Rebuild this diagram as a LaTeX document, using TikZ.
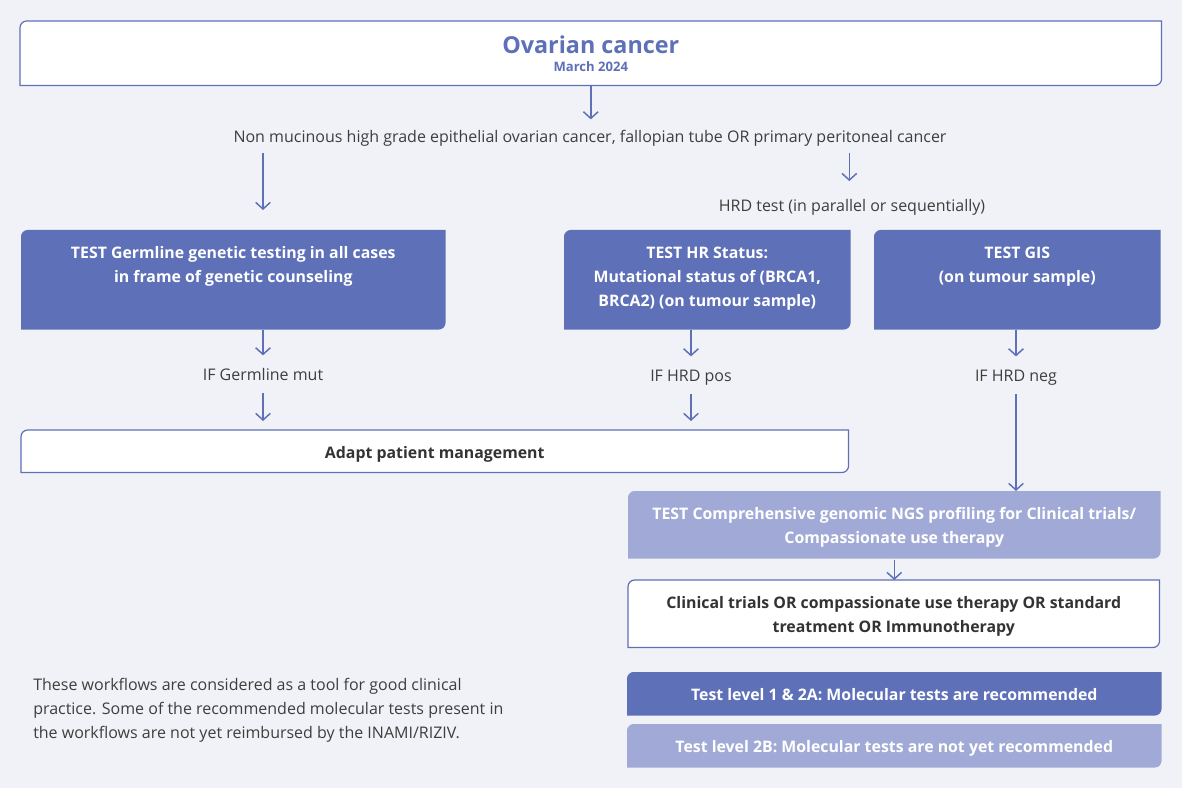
\documentclass[tikz,border=0pt]{standalone}
\usepackage{fontspec}
\setmainfont{Open Sans}
\usepackage{xcolor}
\usepackage{tikz}
\usetikzlibrary{arrows.meta}
\usetikzlibrary{positioning}
\usetikzlibrary{backgrounds}

\definecolor{boxblue}{HTML}{5D70B8}
\definecolor{boxlight}{HTML}{A1AAD6}
\definecolor{pagebg}{HTML}{F1F2F7}
\definecolor{inkgray}{HTML}{3E3E3E}
\definecolor{inkdark}{HTML}{333333}

\tikzset{
  darkbox/.style={fill=boxblue},
  lightbox/.style={fill=boxlight},
  whitebox/.style={fill=white, draw=boxblue, line width=0.9pt},
  boxtext/.style={anchor=north west, inner sep=0pt, align=center, text=white, font=\fontsize{11.9}{18}\selectfont\bfseries},
  lbl/.style={inner sep=0pt, text=inkgray, text height=11pt, text depth=0pt, font=\fontsize{12}{18}\selectfont},
  flow/.style={-{Straight Barb[length=5pt,width=11pt]}, draw=boxblue, line width=1.1pt},
}

\begin{document}
\begin{tikzpicture}[x=0.75pt, y=-0.75pt]
\node [boxtext, text=boxblue, font=\fontsize{9.8}{13.8}\selectfont\bfseries, text height=28pt, text depth=0pt, minimum width=855.75pt, minimum height=48pt] (title) at (20, 21) {{\fontsize{17.5}{20}\selectfont Ovarian cancer}\\March 2024};
\node [lbl] (nonmuc) at (590, 135) {Non mucinous high grade epithelial ovarian cancer, fallopian tube OR primary peritoneal cancer};
\node [lbl] (hrd) at (852, 204) {HRD test (in parallel or sequentially)};
\node [boxtext, text height=27pt, text depth=22.5pt, minimum width=318pt, minimum height=74.25pt] (gl) at (21, 230) {TEST Germline genetic testing in all cases\\in frame of genetic counseling};
\node [boxtext, text height=45pt, text depth=4.5pt, minimum width=214.5pt, minimum height=74.25pt] (hr) at (564, 230) {TEST HR Status:\\Mutational status of (BRCA1,\\BRCA2) (on tumour sample)};
\node [boxtext, text height=27pt, text depth=22.5pt, minimum width=214.5pt, minimum height=74.25pt] (gis) at (874, 230) {TEST GIS\\(on tumour sample)};
\node [lbl] (glif) at (263, 373) {IF Germline mut};
\node [lbl] (hrif) at (691, 374) {IF HRD pos};
\node [lbl] (gisif) at (1016, 374) {IF HRD neg};
\node [boxtext, text=inkdark, text height=11.25pt, text depth=0pt, minimum width=620.25pt, minimum height=31.5pt] (adapt) at (21, 430) {Adapt patient management};
\node [boxtext, text height=28.5pt, text depth=0pt, minimum width=399pt, minimum height=50.25pt] (ngs) at (628, 491) {TEST Comprehensive genomic NGS profiling for Clinical trials/\\Compassionate use therapy};
\node [boxtext, text=inkdark, text height=28.5pt, text depth=0pt, minimum width=398.25pt, minimum height=50.25pt] (clin) at (628, 580) {Clinical trials OR compassionate use therapy OR standard\\treatment OR Immunotherapy};
\node [boxtext, text height=10.5pt, text depth=0pt, minimum width=400.5pt, minimum height=32.25pt] (lev1) at (627, 672) {Test level 1 \& 2A: Molecular tests are recommended};
\node [boxtext, text height=10.5pt, text depth=0pt, minimum width=400.5pt, minimum height=32.25pt] (lev2) at (627, 724) {Test level 2B: Molecular tests are not yet recommended};
\node [lbl, anchor=north west, align=left, text height=, text depth=] (note) at (33, 678) {These workflows are considered as a tool for good clinical\\practice. Some of the recommended molecular tests present in\\the workflows are not yet reimbursed by the INAMI/RIZIV.};

\draw [flow, shorten >=6pt] (title.south) to (title.south |- nonmuc.north);
\draw [flow, shorten <=8pt, shorten >=15pt] (nonmuc.south -| glif) to (gl.north -| glif);
\draw [flow, shorten <=7.5pt, shorten >=11.5pt] ([xshift=-2pt]nonmuc.south -| hrd) to ([xshift=-2pt]hrd.north);
\draw [flow, shorten >=7.5pt] (gl.south -| glif) to (glif);
\draw [flow, shorten <=9.3pt, shorten >=6.75pt] (glif) to (glif |- adapt.north);
\draw [flow, shorten >=7.5pt] (hr.south -| hrif) to (hrif);
\draw [flow, shorten <=9.3pt, shorten >=6.75pt] (hrif) to (hrif |- adapt.north);
\draw [flow, shorten >=7.5pt] (gis.south -| gisif) to (gisif);
\draw [flow, shorten <=9.5pt] (gisif) to (gisif |- ngs.north);
\draw [flow, shorten <=0.75pt] (ngs.south) to (ngs.south |- clin.north);

\begin{scope}[on background layer]
\fill [pagebg] (0, 0) rectangle (1182, 788);
\foreach \n/\s in {title/whitebox, gl/darkbox, hr/darkbox, gis/darkbox, adapt/whitebox, ngs/lightbox, clin/whitebox, lev1/darkbox, lev2/lightbox}
  \path [\s] ([xshift=5pt]\n.north west) -- (\n.north east) -- ([yshift=5pt]\n.south east) arc [start angle=0, end angle=-90, radius=5pt] -- (\n.south west) -- ([yshift=-5pt]\n.north west) arc [start angle=180, end angle=90, radius=5pt] -- cycle;
\end{scope}
\end{tikzpicture}
\end{document}
